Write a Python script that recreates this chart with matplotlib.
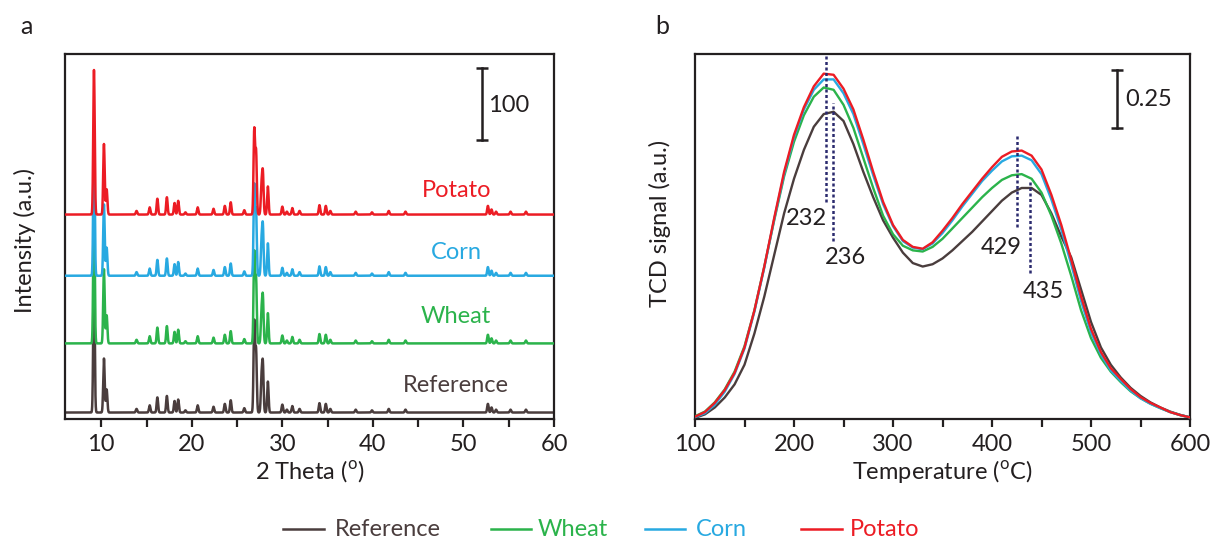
import numpy as np
import matplotlib
matplotlib.use("Agg")
import matplotlib.pyplot as plt
from matplotlib.lines import Line2D

plt.rcParams['font.family'] = ['Lato', 'DejaVu Sans']
plt.rcParams['mathtext.fontset'] = 'custom'
plt.rcParams['mathtext.rm'] = 'Lato'
plt.rcParams['font.size'] = 17

# ---- panel a: XRD peaks (2 theta, heights in counts)
peak_pos = [9.2, 10.3, 10.6, 13.9, 15.35, 16.2, 17.25, 18.1, 18.5, 19.3,
            20.65, 22.4, 23.65, 24.3, 25.8, 26.9, 27.1, 27.7, 27.85, 28.4,
            30.0, 30.5, 31.1, 31.9, 34.1, 34.8, 35.3, 38.1, 39.9, 41.75,
            43.6, 52.7, 53.1, 53.6, 55.2, 56.9]
h_potato = [201, 98, 35, 5, 10, 22, 24, 16, 19, 3,
            10, 8, 12, 17, 6, 117, 86, 37, 56, 39,
            11, 4, 9, 5, 13, 12, 5, 4, 3, 5,
            4, 12, 7, 4, 4, 4]
h_corn = [200, 99, 39, 5, 10, 22, 24, 16, 19, 3,
          10, 8, 12, 17, 6, 124, 88, 43, 66, 45,
          11, 4, 9, 5, 13, 12, 5, 4, 3, 5,
          4, 12, 7, 4, 4, 4]
h_wheat = [200, 103, 39, 5, 10, 22, 24, 16, 19, 3,
           10, 8, 12, 17, 6, 125, 88, 39, 62, 42,
           11, 4, 9, 5, 13, 12, 5, 4, 3, 5,
           4, 12, 7, 4, 4, 4]
h_ref = [200, 75, 32, 5, 10, 21, 23, 16, 18, 3,
         10, 8, 12, 17, 6, 125, 85, 44, 65, 43,
         11, 4, 9, 5, 13, 12, 5, 4, 3, 5,
         4, 12, 7, 4, 4, 4]
xrd_offsets = [0, 96, 190, 275]   # Reference, Wheat, Corn, Potato
peak_sigma = 0.08

# ---- panel b: TCD signal vs temperature
temp = list(range(100, 601, 10))
tcd_ref = [0.005, 0.02, 0.05, 0.093, 0.15, 0.235, 0.37, 0.53, 0.71, 0.89,
           1.04, 1.165, 1.265, 1.32, 1.33, 1.29, 1.19, 1.07, 0.96, 0.86,
           0.785, 0.72, 0.675, 0.66, 0.67, 0.695, 0.73, 0.77, 0.81, 0.855,
           0.9, 0.945, 0.98, 1.0, 1.0, 0.97, 0.89, 0.79, 0.70, 0.56,
           0.42, 0.31, 0.235, 0.18, 0.135, 0.1, 0.072, 0.05, 0.032, 0.018, 0.007]
tcd_wheat = [0.012, 0.032, 0.072, 0.128, 0.205, 0.315, 0.47, 0.66, 0.86, 1.05,
             1.2, 1.315, 1.395, 1.435, 1.425, 1.36, 1.26, 1.13, 1.0, 0.88,
             0.8, 0.75, 0.73, 0.725, 0.745, 0.78, 0.825, 0.87, 0.915, 0.96,
             1.0, 1.035, 1.055, 1.06, 1.04, 0.98, 0.88, 0.76, 0.62, 0.47,
             0.35, 0.265, 0.205, 0.16, 0.12, 0.09, 0.066, 0.047, 0.03, 0.017, 0.007]
tcd_corn = [0.008, 0.025, 0.062, 0.118, 0.195, 0.305, 0.465, 0.655, 0.865, 1.06,
            1.22, 1.34, 1.425, 1.47, 1.47, 1.41, 1.32, 1.19, 1.055, 0.93,
            0.835, 0.77, 0.742, 0.735, 0.76, 0.805, 0.86, 0.92, 0.975, 1.03,
            1.075, 1.115, 1.137, 1.14, 1.12, 1.06, 0.95, 0.82, 0.67, 0.51,
            0.375, 0.28, 0.21, 0.165, 0.123, 0.09, 0.066, 0.047, 0.03, 0.017, 0.007]
tcd_potato = [0.01, 0.03, 0.07, 0.125, 0.2, 0.31, 0.47, 0.66, 0.87, 1.07,
              1.23, 1.35, 1.44, 1.495, 1.49, 1.43, 1.34, 1.21, 1.07, 0.94,
              0.84, 0.775, 0.745, 0.737, 0.765, 0.815, 0.87, 0.93, 0.985, 1.04,
              1.09, 1.135, 1.158, 1.162, 1.14, 1.08, 0.97, 0.84, 0.69, 0.53,
              0.39, 0.29, 0.22, 0.174, 0.13, 0.095, 0.07, 0.05, 0.03, 0.017, 0.007]

peak_labels = ['232', '236', '429', '435']
peak_line_t = [232, 239, 425, 438]
peak_line_y = [(0.94, 1.572), (0.77, 1.37), (0.83, 1.23), (0.63, 1.03)]

names = ['Reference', 'Wheat', 'Corn', 'Potato']
colors = ['#4a3d3d', '#2bb34b', '#28a9e1', '#ec1c24']
navy = '#2b2a6e'
ink = '#231f20'

fig = plt.figure(figsize=(12.14, 5.44), dpi=100)
ax1 = fig.add_axes([65 / 1214, 1 - 419 / 544, 489 / 1214, 365 / 544])
ax2 = fig.add_axes([695 / 1214, 1 - 419 / 544, 495 / 1214, 365 / 544])

# panel a
x = np.linspace(6, 60, 6001)
heights = [h_ref, h_wheat, h_corn, h_potato]
for i, (hs, off) in enumerate(zip(heights, xrd_offsets)):
    y = np.full_like(x, float(off))
    for p, h in zip(peak_pos, hs):
        y += h * np.exp(-(x - p) ** 2 / (2 * peak_sigma ** 2))
    ax1.plot(x, y, color=colors[i], lw=1.8, zorder=2 + i)

label_y = [38, 133, 222, 309]
for i in range(4):
    ax1.text(49.2, label_y[i], names[i], color=colors[i], ha='center',
             va='center', fontsize=17)

# scale bar
ax1.plot([52.05, 52.05], [379, 479], color=ink, lw=1.8)
ax1.plot([52.05, 52.05], [379, 479], ls='none', marker='_', ms=8, mew=1.8, color=ink)
ax1.text(52.7, 427, '100', ha='left', va='center', color=ink, fontsize=17)

ax1.set_xlim(6, 60)
ax1.set_ylim(-9, 498)
ax1.set_xticks([10, 20, 30, 40, 50, 60])
ax1.set_xticks([15, 25, 35, 45, 55], minor=True)
ax1.set_yticks([])
ax1.set_xlabel(r'2 Theta ($^{\mathrm{o}}$)', color=ink, labelpad=2)
ax1.set_ylabel('Intensity (a.u.)', color=ink)
ax1.yaxis.set_label_coords(-0.059, 0.49)

# panel b
tcd = [tcd_ref, tcd_wheat, tcd_corn, tcd_potato]
for i in range(4):
    ax2.plot(temp, tcd[i], color=colors[i], lw=1.7, zorder=2 + i)

for t, (y0, y1) in zip(peak_line_t, peak_line_y):
    ax2.plot([t, t], [y0, y1], color=navy, lw=1.8, ls=(0, (1.2, 1.0)), zorder=10)
ax2.text(233, 0.866, peak_labels[0], ha='right', va='center', color=ink, fontsize=17)
ax2.text(231, 0.70, peak_labels[1], ha='left', va='center', color=ink, fontsize=17)
ax2.text(430, 0.743, peak_labels[2], ha='right', va='center', color=ink, fontsize=17)
ax2.text(431, 0.554, peak_labels[3], ha='left', va='center', color=ink, fontsize=17)

ax2.plot([526, 526], [1.26, 1.51], color=ink, lw=1.8)
ax2.plot([526, 526], [1.26, 1.51], ls='none', marker='_', ms=8, mew=1.8, color=ink)
ax2.text(535, 1.385, '0.25', ha='left', va='center', color=ink, fontsize=17)

ax2.set_xlim(100, 600)
ax2.set_ylim(0, 1.58)
ax2.set_xticks([100, 200, 300, 400, 500, 600])
ax2.set_xticks([150, 250, 350, 450, 550], minor=True)
ax2.set_yticks([])
ax2.set_xlabel(r'Temperature ($^{\mathrm{o}}$C)', color=ink, labelpad=2)
ax2.set_ylabel('TCD signal (a.u.)', color=ink)
ax2.yaxis.set_label_coords(-0.048, 0.537)

for ax in (ax1, ax2):
    for s in ax.spines.values():
        s.set_linewidth(1.6)
        s.set_color(ink)
    ax.tick_params(axis='x', which='both', direction='out', length=6, width=1.6,
                   colors=ink, pad=5, labelsize=17)

fig.text(26 / 1214, 1 - 27 / 544, 'a', ha='center', va='center', fontsize=18, color=ink)
fig.text(662 / 1214, 1 - 27 / 544, 'b', ha='center', va='center', fontsize=18, color=ink)

# legend drawn in figure pixels to match the spacing of the original
leg_line_x = [(283, 324), (491, 531), (645, 685), (801, 842)]
leg_text_x = [335, 538, 696, 850]
leg_y = 1 - 529 / 544
for i in range(4):
    x0, x1 = leg_line_x[i]
    fig.add_artist(Line2D([x0 / 1214, x1 / 1214], [leg_y, leg_y], color=colors[i], lw=1.8))
    fig.text(leg_text_x[i] / 1214, leg_y, names[i], color=colors[i], ha='left',
             va='center', fontsize=17)

fig.savefig('out.png', dpi=100)
